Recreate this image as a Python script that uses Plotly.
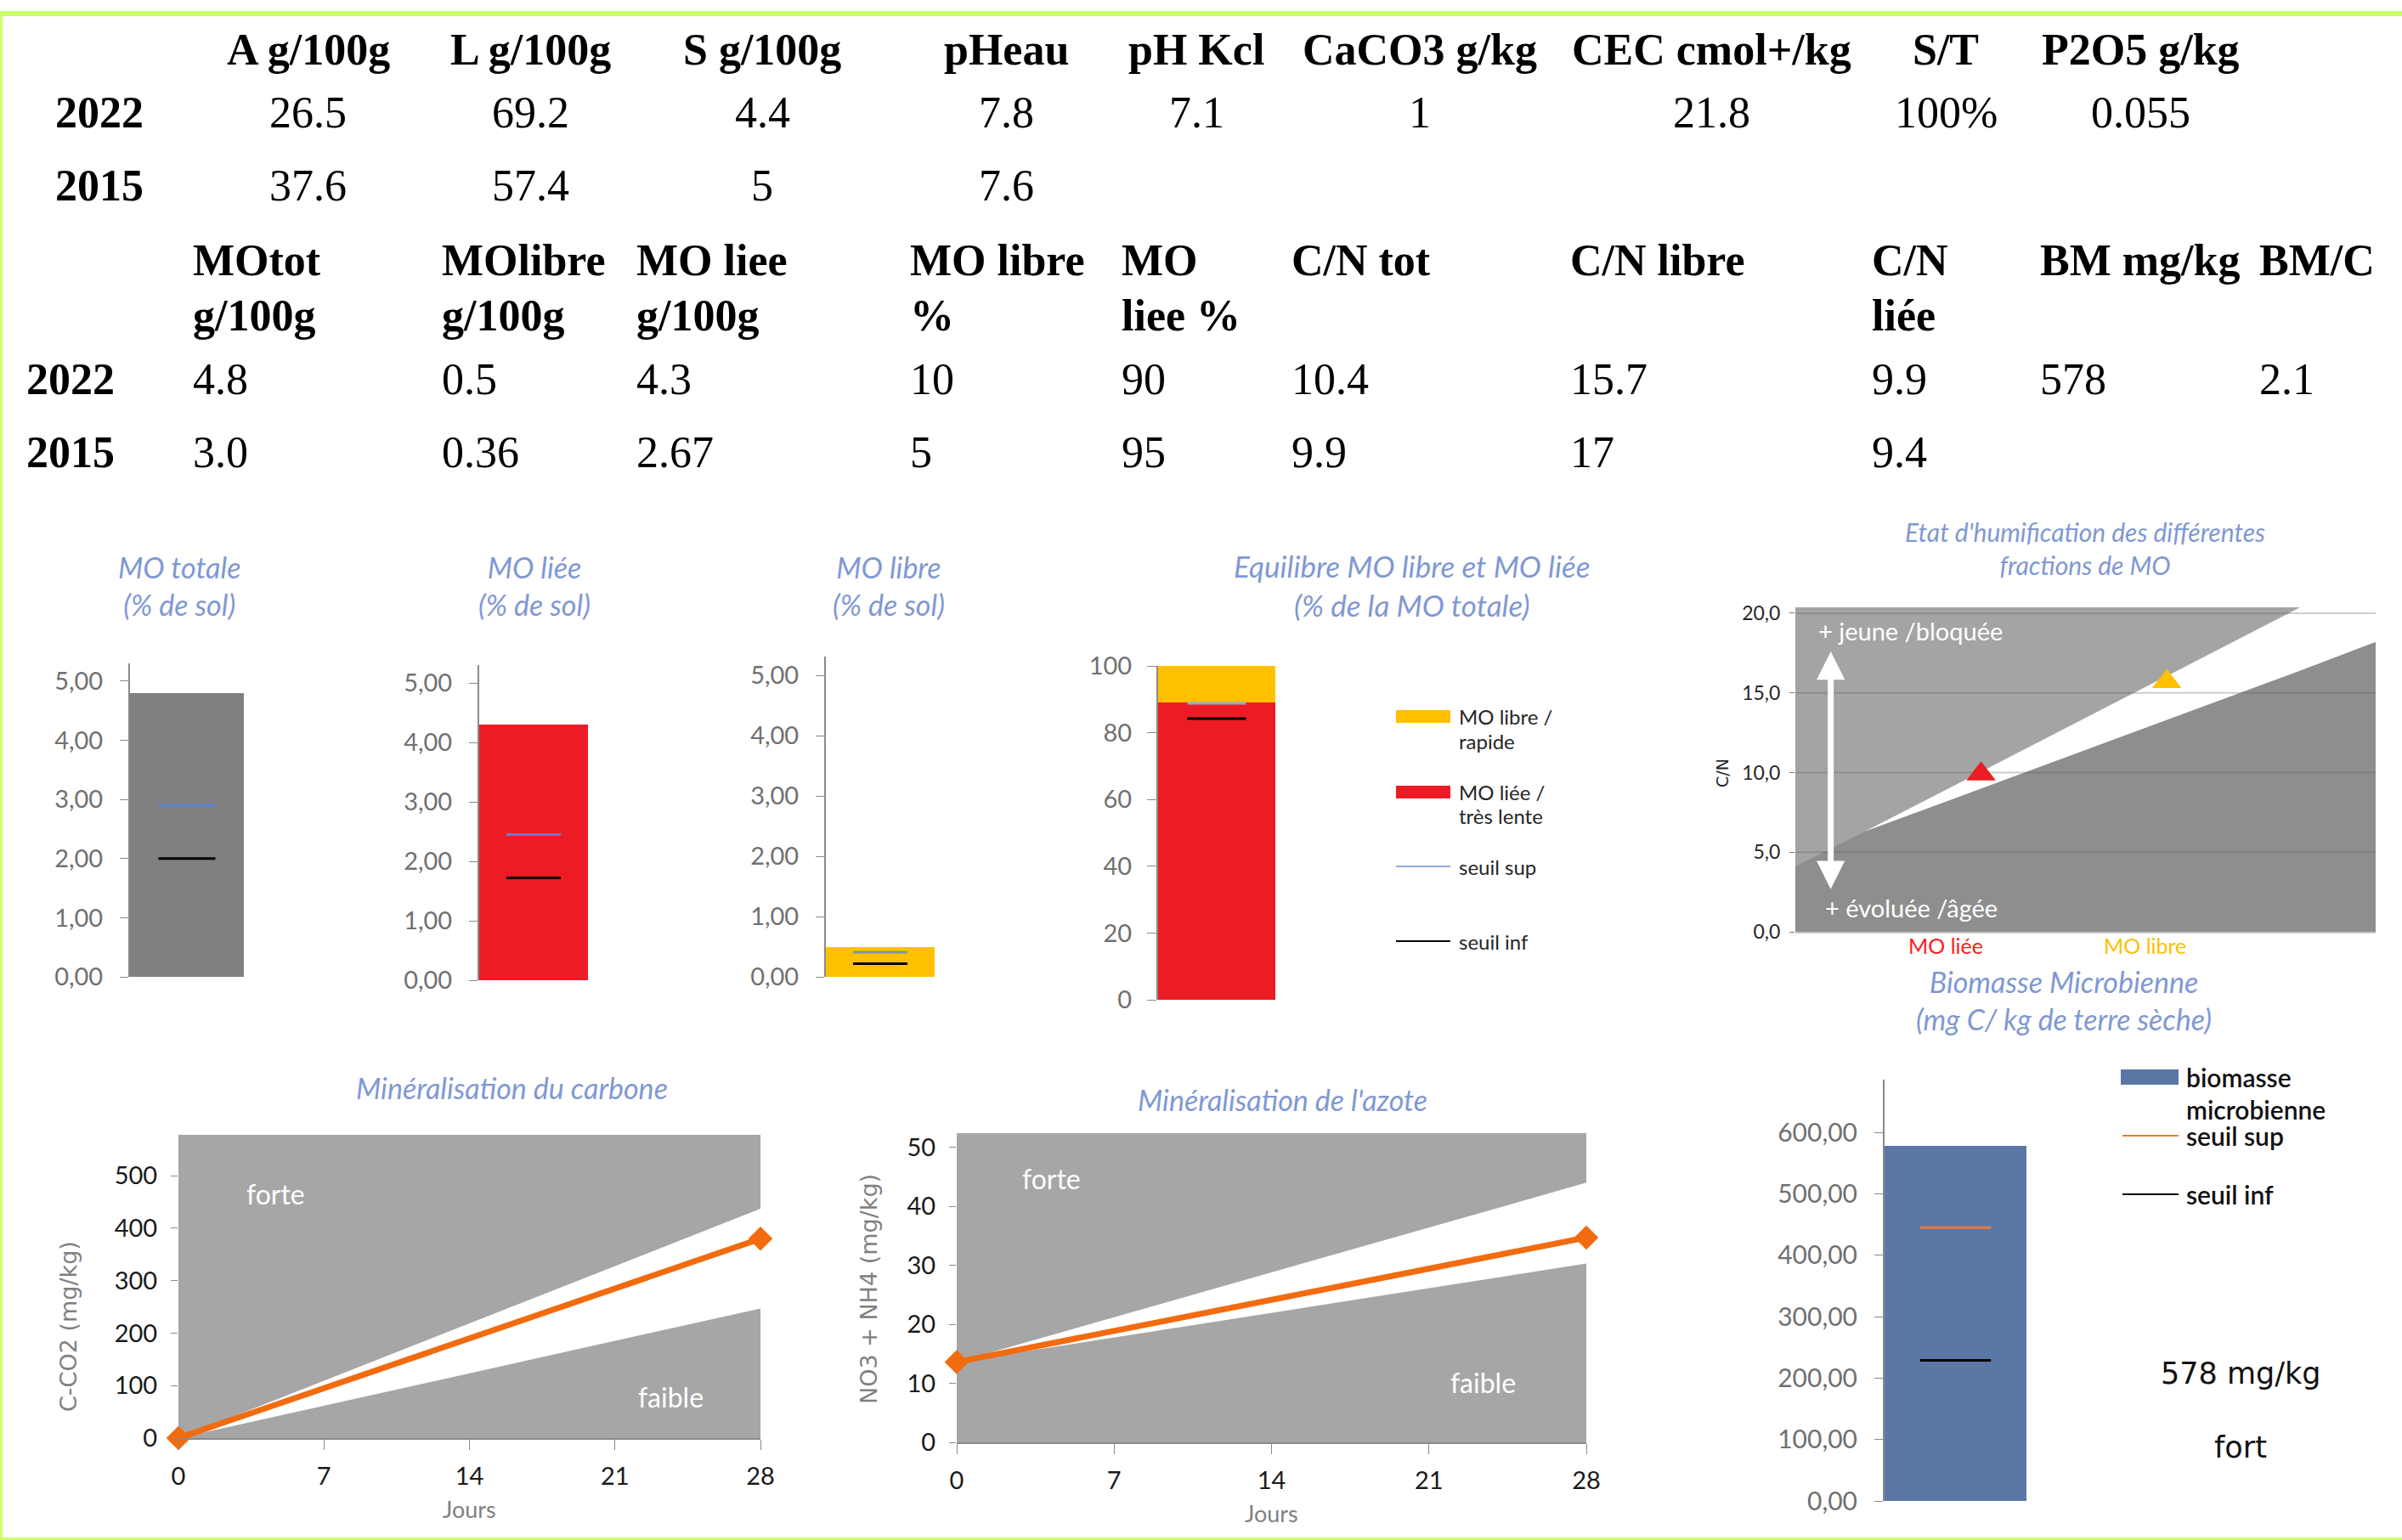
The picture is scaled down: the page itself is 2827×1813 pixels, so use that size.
import plotly.graph_objects as go

W, H = 2827, 1813

# ---------------- data ----------------
years = ["2022", "2015"]

soil_headers = ["A g/100g", "L g/100g", "S g/100g", "pHeau", "pH Kcl",
                "CaCO3 g/kg", "CEC cmol+/kg", "S/T", "P2O5 g/kg"]
soil_2022 = ["26.5", "69.2", "4.4", "7.8", "7.1", "1", "21.8", "100%", "0.055"]
soil_2015 = ["37.6", "57.4", "5", "7.6", "", "", "", "", ""]

mo_head_line1 = ["MOtot", "MOlibre", "MO liee", "MO libre", "MO", "C/N tot",
                 "C/N libre", "C/N", "BM mg/kg", "BM/C"]
mo_head_line2 = ["g/100g", "g/100g", "g/100g", "%", "liee %", "", "", "liée", "", ""]
mo_2022 = ["4.8", "0.5", "4.3", "10", "90", "10.4", "15.7", "9.9", "578", "2.1"]
mo_2015 = ["3.0", "0.36", "2.67", "5", "95", "9.9", "17", "9.4", "", ""]

# MO stocks (% de sol)
mo_titles = ["MO totale<br>(% de sol)", "MO liée<br>(% de sol)", "MO libre<br>(% de sol)"]
mo_values = [4.8, 4.3, 0.5]
mo_seuil_sup = [2.9, 2.45, 0.41]
mo_seuil_inf = [2.0, 1.72, 0.22]
mo_ticks = [0, 1, 2, 3, 4, 5]

# Equilibre MO libre / MO liée (% MO totale)
eq_liee = [89]
eq_libre = [11]
eq_seuil_sup = 88.8
eq_seuil_inf = 84.2
eq_ticks = [0, 20, 40, 60, 80, 100]

# Humification (C/N)
cn_labels = ["MO liée", "MO libre"]
cn_pos = [3.2, 6.4]
cn_values = [9.9, 15.7]
dark_x = [0, 1.2, 8.7, 10]
dark_y = [4.1, 6.3, 16.4, 18.2]
band_x = [1.2, 8.7, 10]
band_lower = [6.3, 16.4, 18.2]
band_upper = [6.3, 20.37, 20.37]
cn_ticks = [0, 5, 10, 15, 20]

# Biomasse microbienne
bm_value = [578]
bm_seuil_sup = 445
bm_seuil_inf = 229
bm_ticks = [0, 100, 200, 300, 400, 500, 600]

# Minéralisation
days = [0, 28]
day_ticks = [0, 7, 14, 21, 28]
c_forte = [0, 437]
c_faible = [0, 247]
c_mesure = [0, 380]
c_ticks = [0, 100, 200, 300, 400, 500]
n_forte = [13.6, 44]
n_faible = [13.6, 30.3]
n_mesure = [13.6, 34.7]
n_ticks = [0, 10, 20, 30, 40, 50]

# ---------------- layout helpers ----------------
def px(x):
    return x / W


def py(y):
    return 1 - y / H


SANS = "Lato"
SERIF = "Liberation Serif"
TITLE_BLUE = "#7f98d3"
TICK_GRAY = "#707070"
AXIS_GRAY = "#8a8a8a"
HALF = 0.25  # half width of threshold marks (bar units)

# axis domains in pixels: (x0, x1, ytop, ybottom, ymax)
dom = {
    1: (153, 287, 781, 1150, 5.3),
    2: (564, 692, 783, 1154, 5.3),
    3: (972, 1100, 773, 1150, 5.31),
    4: (1363, 1501, 784, 1177, 100),
    5: (2113, 2796, 715, 1097, 20.37),
    6: (2218, 2385, 1271, 1767, 686),
    7: (210, 895, 1336, 1693, 578),
    8: (1126, 1867, 1334, 1698, 52.4),
}

fig = go.Figure()
lay = {}
shapes = []
ann = []


def note(**kw):
    kw.setdefault("showarrow", False)
    kw.setdefault("xanchor", "center")
    kw.setdefault("yanchor", "middle")
    kw.setdefault("xref", "paper")
    kw.setdefault("yref", "paper")
    ann.append(kw)


def axname(i, a):
    return a + ("" if i == 1 else str(i))


def ref(i, a):
    return a + ("" if i == 1 else str(i))


for i, (x0, x1, yt, yb, ymax) in dom.items():
    lay[axname(i, "xaxis")] = dict(domain=[px(x0), px(x1)], anchor=ref(i, "y"), automargin=False,
                                   showgrid=False, zeroline=False, fixedrange=True)
    lay[axname(i, "yaxis")] = dict(domain=[py(yb), py(yt)], anchor=ref(i, "x"), automargin=False,
                                   range=[0, ymax], showgrid=False, zeroline=False,
                                   fixedrange=True)

# ---- MO bar charts 1..3 ----
mo_colors = ["#808080", "#ed1c24", "#ffc000"]
sup_colors = ["#5f86d0", "#6a7fc0", "#7d92b0"]
for k in range(3):
    i = k + 1
    fig.add_trace(go.Bar(x=[0], y=[mo_values[k]], width=1, marker=dict(color=mo_colors[k], line=dict(width=0)),
                         xaxis=ref(i, "x"), yaxis=ref(i, "y"), hoverinfo="skip"))
    fig.add_trace(go.Scatter(x=[-HALF, HALF], y=[mo_seuil_sup[k]] * 2, mode="lines",
                             line=dict(color=sup_colors[k], width=3),
                             xaxis=ref(i, "x"), yaxis=ref(i, "y")))
    fig.add_trace(go.Scatter(x=[-HALF, HALF], y=[mo_seuil_inf[k]] * 2, mode="lines",
                             line=dict(color="#000000", width=3),
                             xaxis=ref(i, "x"), yaxis=ref(i, "y")))
    lay[axname(i, "xaxis")].update(range=[-0.5, 0.5], visible=False)
    lay[axname(i, "yaxis")].update(tickvals=mo_ticks, tickformat=".2f", ticks="outside", ticklen=10,
                                   tickcolor=AXIS_GRAY, showline=True, linecolor=AXIS_GRAY, linewidth=2,
                                   ticklabelstandoff=14,
                                   tickfont=dict(family=SANS, size=29, color=TICK_GRAY))
    note(x=px([211, 629, 1046][k]), y=py(689), text=mo_titles[k],
         font=dict(family=SANS, size=34, color=TITLE_BLUE, style="italic"))

# ---- Equilibre (4) ----
fig.add_trace(go.Bar(x=[0], y=eq_liee, width=1, marker=dict(color="#ed1c24", line=dict(width=0)),
                     xaxis="x4", yaxis="y4"))
fig.add_trace(go.Bar(x=[0], y=eq_libre, width=1, marker=dict(color="#ffc000", line=dict(width=0)),
                     xaxis="x4", yaxis="y4"))
fig.add_trace(go.Scatter(x=[-HALF, HALF], y=[eq_seuil_sup] * 2, mode="lines",
                         line=dict(color="#8eaadb", width=3), xaxis="x4", yaxis="y4"))
fig.add_trace(go.Scatter(x=[-HALF, HALF], y=[eq_seuil_inf] * 2, mode="lines",
                         line=dict(color="#000000", width=3), xaxis="x4", yaxis="y4"))
lay["xaxis4"].update(range=[-0.5, 0.5], visible=False)
lay["yaxis4"].update(tickvals=eq_ticks, ticks="outside", ticklen=11, tickcolor=AXIS_GRAY,
                     showline=True, linecolor=AXIS_GRAY, linewidth=2, ticklabelstandoff=12,
                     tickfont=dict(family=SANS, size=29, color=TICK_GRAY))
note(x=px(1661), y=py(689), text="Equilibre MO libre et MO liée<br>(% de la MO totale)",
     font=dict(family=SANS, size=35, color=TITLE_BLUE, style="italic"))
# legend
leg_font = dict(family=SANS, size=24, color="#262626")
shapes.append(dict(type="rect", xref="paper", yref="paper", x0=px(1643), x1=px(1707),
                   y0=py(851), y1=py(836), fillcolor="#ffc000", line=dict(width=0)))
shapes.append(dict(type="rect", xref="paper", yref="paper", x0=px(1643), x1=px(1707),
                   y0=py(940), y1=py(925), fillcolor="#ed1c24", line=dict(width=0)))
shapes.append(dict(type="line", xref="paper", yref="paper", x0=px(1643), x1=px(1707),
                   y0=py(1020), y1=py(1020), line=dict(color="#8eaadb", width=2)))
shapes.append(dict(type="line", xref="paper", yref="paper", x0=px(1643), x1=px(1707),
                   y0=py(1108), y1=py(1108), line=dict(color="#000000", width=2)))
for txt, yy in [("MO libre /", 843), ("rapide", 872), ("MO liée /", 932), ("très lente", 960),
                ("seuil sup", 1020), ("seuil inf", 1108)]:
    note(x=px(1715), y=py(yy), text=txt, xanchor="left", font=leg_font)

# ---- Humification (5) ----
shapes.append(dict(type="rect", xref="x5 domain", yref="y5 domain", x0=0, x1=1, y0=0, y1=1,
                   fillcolor="#a4a4a4", line=dict(width=0), layer="below"))
fig.add_trace(go.Scatter(x=dark_x, y=dark_y, mode="lines", line=dict(width=0), fill="tozeroy",
                         fillcolor="#8e8e8e", xaxis="x5", yaxis="y5"))
fig.add_trace(go.Scatter(x=band_x, y=band_lower, mode="lines", line=dict(width=0),
                         xaxis="x5", yaxis="y5"))
fig.add_trace(go.Scatter(x=band_x, y=band_upper, mode="lines", line=dict(width=0), fill="tonexty",
                         fillcolor="#ffffff", xaxis="x5", yaxis="y5"))
for t in cn_ticks[1:]:
    fig.add_trace(go.Scatter(x=[0, 10], y=[t, t], mode="lines",
                             line=dict(color="rgba(90,90,90,0.30)", width=2), xaxis="x5", yaxis="y5"))
fig.add_trace(go.Scatter(x=cn_pos, y=cn_values, mode="markers",
                         marker=dict(symbol="triangle-up", size=30, color=["#ed1c24", "#ffc000"],
                                     line=dict(width=0)), xaxis="x5", yaxis="y5"))
lay["xaxis5"].update(range=[0, 10], showticklabels=False, ticks="", showline=True,
                     linecolor="#c8c8c8", linewidth=2)
lay["yaxis5"].update(tickvals=cn_ticks, tickformat=".1f", ticks="outside", ticklen=6,
                     tickcolor="#7a7a7a", ticklabelstandoff=6,
                     tickfont=dict(family=SANS, size=23, color="#262626"))
ann.append(dict(x=0.61, y=17.6, ax=0.61, ay=2.6, xref="x5", yref="y5", axref="x5", ayref="y5",
                text="", showarrow=True, arrowside="end+start", arrowhead=2, arrowsize=0.95,
                arrowwidth=7, arrowcolor="#ffffff"))
note(x=0.37, y=18.9, xref="x5", yref="y5", text="+ jeune /bloquée", xanchor="left",
     font=dict(family=SANS, size=29, color="#ffffff"))
note(x=0.48, y=1.5, xref="x5", yref="y5", text="+ évoluée /âgée", xanchor="left",
     font=dict(family=SANS, size=29, color="#ffffff"))
note(x=px(2027), y=py(910), text="C/N", textangle=-90,
     font=dict(family="DejaVu Sans", size=19, color="#262626"))
for lab, xx, col in zip(cn_labels, [2290, 2524], ["#ff1a1a", "#ffc000"]):
    note(x=px(xx), y=py(1113), text=lab, font=dict(family=SANS, size=25, color=col))
note(x=px(2454), y=py(645), text="Etat d'humification des différentes<br>fractions de MO",
     font=dict(family=SANS, size=30, color=TITLE_BLUE, style="italic"))

# ---- Biomasse (6) ----
fig.add_trace(go.Bar(x=[0], y=bm_value, width=1, marker=dict(color="#5b77a6", line=dict(width=0)),
                     xaxis="x6", yaxis="y6"))
fig.add_trace(go.Scatter(x=[-HALF, HALF], y=[bm_seuil_sup] * 2, mode="lines",
                         line=dict(color="#f07a30", width=3), xaxis="x6", yaxis="y6"))
fig.add_trace(go.Scatter(x=[-HALF, HALF], y=[bm_seuil_inf] * 2, mode="lines",
                         line=dict(color="#000000", width=3), xaxis="x6", yaxis="y6"))
lay["xaxis6"].update(range=[-0.5, 0.5], visible=False)
lay["yaxis6"].update(tickvals=bm_ticks, tickformat=".2f", ticks="outside", ticklen=10,
                     tickcolor=AXIS_GRAY, showline=True, linecolor=AXIS_GRAY, linewidth=2,
                     ticklabelstandoff=14, tickfont=dict(family=SANS, size=30, color=TICK_GRAY))
note(x=px(2429), y=py(1177), text="Biomasse Microbienne<br>(mg C/ kg de terre sèche)",
     font=dict(family=SANS, size=34, color=TITLE_BLUE, style="italic"))
bm_font = dict(family=SANS, size=30, color="#111111", weight=600)
shapes.append(dict(type="rect", xref="paper", yref="paper", x0=px(2496), x1=px(2564),
                   y0=py(1277), y1=py(1259), fillcolor="#5b77a6", line=dict(width=0)))
shapes.append(dict(type="line", xref="paper", yref="paper", x0=px(2498), x1=px(2564),
                   y0=py(1337), y1=py(1337), line=dict(color="#f07a30", width=2)))
shapes.append(dict(type="line", xref="paper", yref="paper", x0=px(2498), x1=px(2564),
                   y0=py(1406), y1=py(1406), line=dict(color="#000000", width=2)))
for txt, yy in [("biomasse", 1268), ("microbienne", 1306), ("seuil sup", 1337), ("seuil inf", 1406)]:
    note(x=px(2571), y=py(yy), text=txt, xanchor="left", font=bm_font)
note(x=px(2637), y=py(1617), text="578 mg/kg",
     font=dict(family="DejaVu Sans", size=35, color="#111111"))
note(x=px(2637), y=py(1704), text="fort",
     font=dict(family="DejaVu Sans", size=35, color="#111111"))

# ---- Minéralisation (7: carbone, 8: azote) ----
mins = [
    (7, c_faible, c_forte, c_mesure, c_ticks, "C-CO2 (mg/kg)", 80, 1562,
     "Minéralisation du carbone", 602, 1280, (4.7, 465), (23.7, 79), 1776),
    (8, n_faible, n_forte, n_mesure, n_ticks, "NO3 + NH4 (mg/kg)", 1022, 1518,
     "Minéralisation de l'azote", 1509, 1294, (4.2, 44.7), (23.4, 10.1), 1781),
]
for (i, lo, hi, me, ticks, ytitle, ytx, yty, title, tx, ty, fpos, fbpos, jy) in mins:
    xa, ya = ref(i, "x"), ref(i, "y")
    shapes.append(dict(type="rect", xref=xa + " domain", yref=ya + " domain", x0=0, x1=1, y0=0, y1=1,
                       fillcolor="#a6a6a6", line=dict(width=0), layer="below"))
    fig.add_trace(go.Scatter(x=days, y=lo, mode="lines", line=dict(width=0), xaxis=xa, yaxis=ya))
    fig.add_trace(go.Scatter(x=days, y=hi, mode="lines", line=dict(width=0), fill="tonexty",
                             fillcolor="#ffffff", xaxis=xa, yaxis=ya))
    fig.add_trace(go.Scatter(x=days, y=me, mode="lines+markers", cliponaxis=False,
                             line=dict(color="#f26b0f", width=7),
                             marker=dict(symbol="diamond", size=22, color="#f26b0f"),
                             xaxis=xa, yaxis=ya))
    lay[axname(i, "xaxis")].update(range=[0, 28], tickvals=day_ticks, ticks="outside", ticklen=12,
                                   tickcolor=AXIS_GRAY, showline=True, linecolor=AXIS_GRAY, linewidth=2,
                                   ticklabelstandoff=6,
                                   tickfont=dict(family=SANS, size=29, color="#1a1a1a"))
    lay[axname(i, "yaxis")].update(tickvals=ticks, ticks="outside", ticklen=8, tickcolor=AXIS_GRAY,
                                   ticklabelstandoff=10,
                                   tickfont=dict(family=SANS, size=29, color="#1a1a1a"))
    note(x=px(ytx), y=py(yty), text=ytitle, textangle=-90,
         font=dict(family="DejaVu Sans", size=27, color="#808080"))
    note(x=px(tx), y=py(ty), text=title,
         font=dict(family=SANS, size=34, color=TITLE_BLUE, style="italic"))
    note(x=fpos[0], y=fpos[1], xref=xa, yref=ya, text="forte",
         font=dict(family=SANS, size=32, color="#ffffff"))
    note(x=fbpos[0], y=fbpos[1], xref=xa, yref=ya, text="faible",
         font=dict(family=SANS, size=32, color="#ffffff"))
    note(x=(dom[i][0] + dom[i][1]) / 2 / W, y=py(jy), text="Jours",
         font=dict(family=SANS, size=27, color="#808080"))

# ---------------- tables ----------------
TFONT = 52
soil_col_x = [363, 624, 897, 1184, 1408, 1671, 2014, 2290, 2519]
for j, h in enumerate(soil_headers):
    note(x=px(soil_col_x[j]), y=py(58), text="<b>" + h + "</b>",
         font=dict(family=SERIF, size=TFONT, color="#000000"))
    for vals, yy in [(soil_2022, 132), (soil_2015, 218)]:
        if vals[j]:
            note(x=px(soil_col_x[j]), y=py(yy), text=vals[j],
                 font=dict(family=SERIF, size=TFONT, color="#000000"))
for yr, yy in zip(years, [132, 218]):
    note(x=px(117), y=py(yy), text="<b>" + yr + "</b>",
         font=dict(family=SERIF, size=TFONT, color="#000000"))

mo_col_x = [225, 518, 747, 1069, 1318, 1518, 1846, 2201, 2399, 2657]
for j in range(len(mo_head_line1)):
    for txt, yy in [(mo_head_line1[j], 306), (mo_head_line2[j], 371)]:
        if txt:
            note(x=px(mo_col_x[j]), y=py(yy), text="<b>" + txt + "</b>", xanchor="left",
                 font=dict(family=SERIF, size=TFONT, color="#000000"))
    for vals, yy in [(mo_2022, 446), (mo_2015, 532)]:
        if vals[j]:
            note(x=px(mo_col_x[j]), y=py(yy), text=vals[j], xanchor="left",
                 font=dict(family=SERIF, size=TFONT, color="#000000"))
for yr, yy in zip(years, [446, 532]):
    note(x=px(29), y=py(yy), text="<b>" + yr + "</b>", xanchor="left",
         font=dict(family=SERIF, size=TFONT, color="#000000"))

# ---------------- frame ----------------
GREEN = "#ccff66"
shapes.append(dict(type="line", xref="paper", yref="paper", x0=0, x1=1, y0=py(16), y1=py(16),
                   line=dict(color=GREEN, width=6)))
shapes.append(dict(type="line", xref="paper", yref="paper", x0=px(1.5), x1=px(1.5), y0=py(16), y1=0,
                   line=dict(color=GREEN, width=3)))
shapes.append(dict(type="line", xref="paper", yref="paper", x0=0, x1=1, y0=py(1811.5), y1=py(1811.5),
                   line=dict(color=GREEN, width=3)))

fig.update_layout(
    template="none",
    width=W, height=H, autosize=False,
    margin=dict(l=0, r=0, t=0, b=0, pad=0, autoexpand=False),
    paper_bgcolor="#ffffff", plot_bgcolor="#ffffff",
    showlegend=False, barmode="stack", separators=", ",
    shapes=shapes, annotations=ann, **lay,
)

fig.write_html(
    "out.html",
    config={"displayModeBar": False},
    post_script=("document.documentElement.style.margin='0';document.body.style.margin='0';"
                 "document.body.style.padding='0';document.documentElement.style.overflow='hidden';"
                 "document.body.style.overflow='hidden';"),
)
